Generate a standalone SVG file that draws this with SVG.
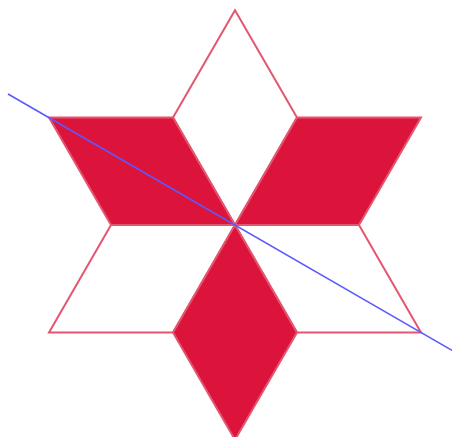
<svg xmlns="http://www.w3.org/2000/svg" width="452" height="437" viewBox="0 0 452 437">
<style>
.rh{stroke:#e3566f;stroke-width:2;stroke-linejoin:miter}
.on{fill:#dc143c}
.off{fill:none}
.axis{stroke:#5a5aff;stroke-width:1.6;fill:none}
</style>
<rect width="452" height="437" fill="#ffffff"/>
<g id="rhombus-top"><polygon class="rh off" points="235,225 173,117.6 235,10.2 297,117.6"/></g>
<g id="rhombus-bottom-left"><polygon class="rh off" points="235,225 111,225 49,332.4 173,332.4"/></g>
<g id="rhombus-bottom-right"><polygon class="rh off" points="235,225 297,332.4 421,332.4 359,225"/></g>
<g id="rhombus-top-left"><polygon class="rh on" points="235,225 173,117.6 49,117.6 111,225"/></g>
<g id="rhombus-top-right"><polygon class="rh on" points="235,225 297,117.6 421,117.6 359,225"/></g>
<g id="rhombus-bottom"><polygon class="rh on" points="235,225 297,332.4 235,439.8 173,332.4"/></g>
<g id="connectors"><line class="axis" x1="8" y1="94" x2="452" y2="350.3"/></g>
</svg>
